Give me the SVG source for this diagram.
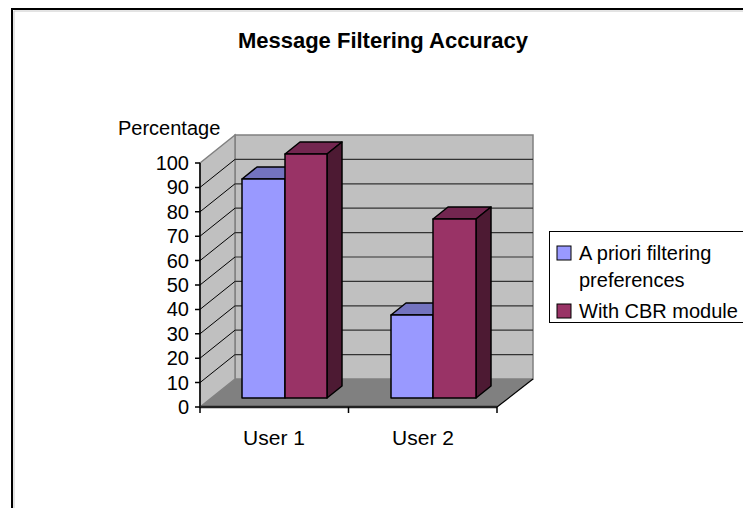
<svg xmlns="http://www.w3.org/2000/svg" width="743" height="508" viewBox="0 0 743 508">
<style>
text{font-family:"Liberation Sans",Arial,sans-serif;fill:#000}
.t{font-size:20px}
.tick{font-size:20px;text-anchor:end}
.grid{stroke:#333;stroke-width:1.2}
.diag{stroke:#000;stroke-width:1}
.ax{stroke:#000;stroke-width:1.5;fill:none}
.bf{fill:#9999FF;stroke:#000;stroke-width:1.5;stroke-linejoin:round}
.bt{fill:#7373BF;stroke:#000;stroke-width:1.5;stroke-linejoin:round}
.mf{fill:#993366;stroke:#000;stroke-width:1.5;stroke-linejoin:round}
.mt{fill:#732650;stroke:#000;stroke-width:1.5;stroke-linejoin:round}
.ms{fill:#4D1A33;stroke:#000;stroke-width:1.5;stroke-linejoin:round}
</style>
<rect width="743" height="508" fill="#fff"/>
<g id="frame">
<path d="M12 508 V9 H743" fill="none" stroke="#000" stroke-width="2"/>
<path d="M14 508 V11 H743" fill="none" stroke="#c8c8c8" stroke-width="1"/>
</g>
<text x="383" y="48" text-anchor="middle" font-size="22" font-weight="bold">Message Filtering Accuracy</text>
<g id="walls">
<polygon points="235,135 533,135 533,379 235,379" fill="#C0C0C0" stroke="#808080" stroke-width="1.5"/>
<polygon points="200,163 235,135 235,379 200,407" fill="#C0C0C0" stroke="#808080" stroke-width="1.5"/>
<polygon points="200,407 235,379 533,379 497,407" fill="#808080"/>
<g class="grid">
<line x1="235" y1="354.6" x2="533" y2="354.6"/>
<line x1="235" y1="330.2" x2="533" y2="330.2"/>
<line x1="235" y1="305.8" x2="533" y2="305.8"/>
<line x1="235" y1="281.4" x2="533" y2="281.4"/>
<line x1="235" y1="257" x2="533" y2="257"/>
<line x1="235" y1="232.6" x2="533" y2="232.6"/>
<line x1="235" y1="208.2" x2="533" y2="208.2"/>
<line x1="235" y1="183.8" x2="533" y2="183.8"/>
<line x1="235" y1="159.4" x2="533" y2="159.4"/>
</g>
<g class="diag">
<line x1="200" y1="382.6" x2="235" y2="354.6"/>
<line x1="200" y1="358.2" x2="235" y2="330.2"/>
<line x1="200" y1="333.8" x2="235" y2="305.8"/>
<line x1="200" y1="309.4" x2="235" y2="281.4"/>
<line x1="200" y1="285" x2="235" y2="257"/>
<line x1="200" y1="260.6" x2="235" y2="232.6"/>
<line x1="200" y1="236.2" x2="235" y2="208.2"/>
<line x1="200" y1="211.8" x2="235" y2="183.8"/>
<line x1="200" y1="187.4" x2="235" y2="159.4"/>
</g>
<line x1="497" y1="407" x2="533" y2="379" stroke="#000" stroke-width="1.2"/>
</g>
<g id="axes">
<path class="ax" d="M200 163 V407 H497"/>
<line x1="200" y1="407" x2="497" y2="407" stroke="#222" stroke-width="2.5"/>
<path class="ax" d="M195 163H200M195 187.4H200M195 211.8H200M195 236.2H200M195 260.6H200M195 285H200M195 309.4H200M195 333.8H200M195 358.2H200M195 382.6H200M195 407H200"/>
<path class="ax" d="M200 407V413M348.5 407V413M497 407V413"/>
<text class="tick" x="189" y="170">100</text>
<text class="tick" x="189" y="194.4">90</text>
<text class="tick" x="189" y="218.8">80</text>
<text class="tick" x="189" y="243.2">70</text>
<text class="tick" x="189" y="267.6">60</text>
<text class="tick" x="189" y="292">50</text>
<text class="tick" x="189" y="316.4">40</text>
<text class="tick" x="189" y="340.8">30</text>
<text class="tick" x="189" y="365.2">20</text>
<text class="tick" x="189" y="389.6">10</text>
<text class="tick" x="189" y="414">0</text>
<text class="t" x="118" y="135">Percentage</text>
<text x="274" y="445" text-anchor="middle" font-size="21">User 1</text>
<text x="423" y="445" text-anchor="middle" font-size="21">User 2</text>
</g>
<g id="bar-user1-apriori">
<polygon class="bt" points="242,179 257,167 300,167 285,179"/>
<rect class="bf" x="242" y="179" width="43" height="219"/>
</g>
<g id="bar-user1-cbr">
<polygon class="mt" points="285,154 300,142 342,142 327,154"/>
<polygon class="ms" points="327,154 342,142 342,386 327,398"/>
<rect class="mf" x="285" y="154" width="42" height="244"/>
</g>
<g id="bar-user2-apriori">
<polygon class="bt" points="391,315 406,303 448,303 433,315"/>
<rect class="bf" x="391" y="315" width="42" height="83"/>
</g>
<g id="bar-user2-cbr">
<polygon class="mt" points="433,219 448,207 491,207 476,219"/>
<polygon class="ms" points="476,219 491,207 491,386 476,398"/>
<rect class="mf" x="433" y="219" width="43" height="179"/>
</g>
<g id="legend">
<rect x="549.5" y="231.5" width="200" height="91" fill="#fff" stroke="#000" stroke-width="1"/>
<rect x="557" y="246" width="14" height="14" fill="#9999FF" stroke="#000" stroke-width="1"/>
<text class="t" x="579" y="260">A priori filtering</text>
<text class="t" x="579" y="287">preferences</text>
<rect x="557" y="304" width="14" height="14" fill="#993366" stroke="#000" stroke-width="1"/>
<text class="t" x="579" y="318">With CBR module</text>
</g>
</svg>
